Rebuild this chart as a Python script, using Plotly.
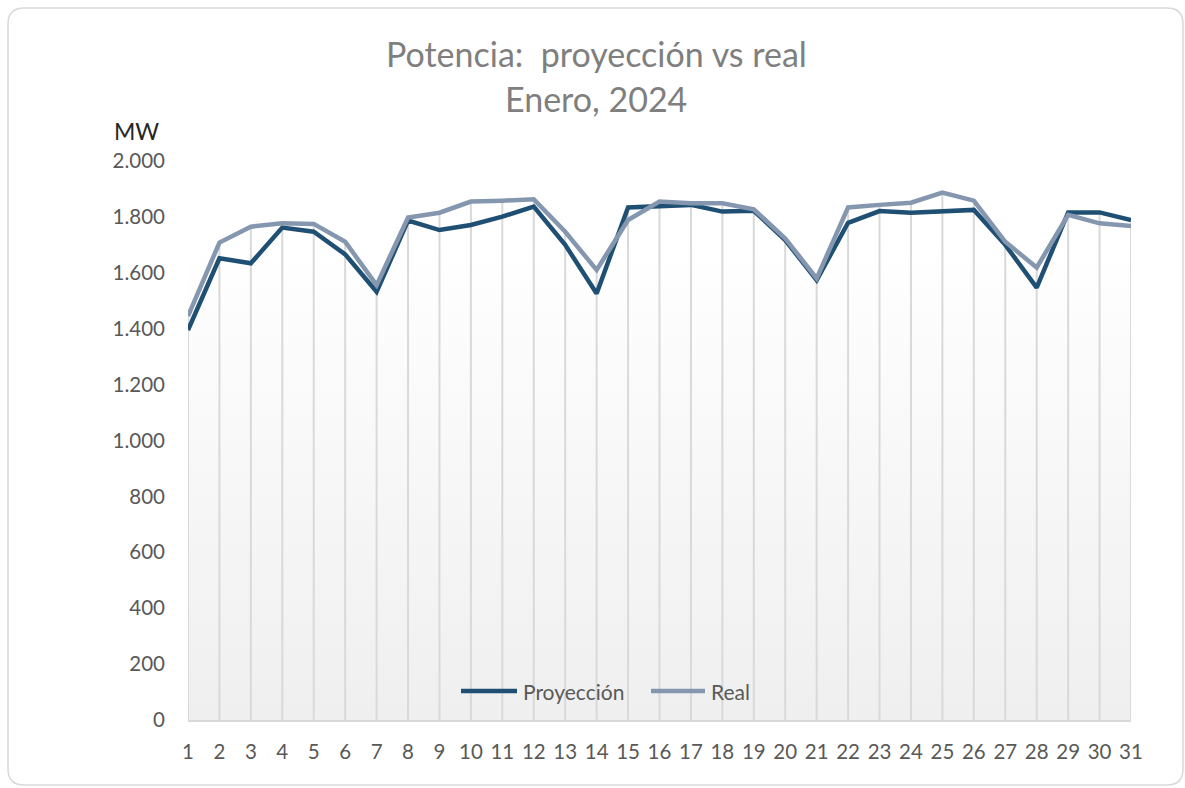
import plotly.graph_objects as go

days = list(range(1, 32))
proyeccion = [1395, 1652, 1634, 1762, 1747, 1666, 1532, 1787, 1753, 1771,
              1801, 1837, 1700, 1526, 1834, 1837, 1843, 1819, 1822, 1717,
              1574, 1779, 1821, 1815, 1821, 1825, 1700, 1547, 1816, 1816, 1789]
real = [1445, 1708, 1765, 1777, 1775, 1711, 1556, 1798, 1815, 1855,
        1858, 1863, 1747, 1610, 1789, 1855, 1849, 1849, 1827, 1723,
        1580, 1834, 1843, 1851, 1887, 1858, 1711, 1619, 1807, 1777, 1767]
y_ticks = list(range(0, 2001, 200))
title_line1 = "Potencia:  proyección vs real"
title_line2 = "Enero, 2024"
y_unit = "MW"
series_names = ["Proyección", "Real"]

W, H = 1185, 788
L, R, T, B = 188, 54, 161, 68
PW, PH = W - L - R, H - T - B

def px(x):
    return (x - L) / PW

def py(y):
    return (H - B - y) / PH

FONT = "Lato, 'Open Sans', sans-serif"
GRAY = "#7f7f7f"
TICK = "#595959"
C_PROY = "#1f5073"
C_REAL = "#8597ae"

fig = go.Figure()

# gradient background of plot area
ymin, ymax = y_ticks[0], y_ticks[-1]
fig.add_trace(go.Scatter(
    x=[days[0], days[-1], days[-1], days[0], days[0]],
    y=[ymin, ymin, ymax, ymax, ymin],
    fill="toself", mode="none",
    fillgradient=dict(type="vertical",
                      colorscale=[[0, "#efefef"], [0.85, "#ffffff"], [1, "#ffffff"]]),
    showlegend=False, hoverinfo="skip",
))

# drop lines (from the highest point of each day down to the axis)
drop_x, drop_y = [], []
for d, a, b in zip(days, proyeccion, real):
    drop_x += [d, d, None]
    drop_y += [ymin, max(a, b), None]
fig.add_trace(go.Scatter(x=drop_x, y=drop_y, mode="lines",
                         line=dict(color="#d9d9d9", width=2),
                         showlegend=False, hoverinfo="skip"))

fig.add_trace(go.Scatter(x=days, y=proyeccion, mode="lines", name=series_names[0],
                         line=dict(color=C_PROY, width=4.5), showlegend=False))
fig.add_trace(go.Scatter(x=days, y=real, mode="lines", name=series_names[1],
                         line=dict(color=C_REAL, width=4.5), showlegend=False))

# rounded chart border
x0, x1, y0, y1, r = 8, 1183, 8, 785, 16
path = (f"M {px(x0 + r)},{py(y0)} L {px(x1 - r)},{py(y0)} "
        f"Q {px(x1)},{py(y0)} {px(x1)},{py(y0 + r)} "
        f"L {px(x1)},{py(y1 - r)} Q {px(x1)},{py(y1)} {px(x1 - r)},{py(y1)} "
        f"L {px(x0 + r)},{py(y1)} Q {px(x0)},{py(y1)} {px(x0)},{py(y1 - r)} "
        f"L {px(x0)},{py(y0 + r)} Q {px(x0)},{py(y0)} {px(x0 + r)},{py(y0)} Z")
fig.add_shape(type="path", path=path, xref="paper", yref="paper",
              line=dict(color="#d9d9d9", width=1.5), layer="below")

# manual legend (long line samples like the original)
legend_items = [(series_names[0], C_PROY, 461, 517, 521),
                (series_names[1], C_REAL, 651, 705, 709)]
for name, color, lx0, lx1, tx in legend_items:
    fig.add_shape(type="line", xref="paper", yref="paper",
                  x0=px(lx0), x1=px(lx1), y0=py(691), y1=py(691),
                  line=dict(color=color, width=4.5))
    fig.add_annotation(text=name, x=px(tx), y=py(691), xref="paper", yref="paper",
                       showarrow=False, xanchor="left", yanchor="middle",
                       font=dict(family=FONT, size=21, color=TICK))

fig.add_annotation(text=title_line1, x=px(596), y=py(54), xref="paper", yref="paper",
                   showarrow=False, font=dict(family=FONT, size=34, color=GRAY),
                   xanchor="center", yanchor="middle")
fig.add_annotation(text=title_line2, x=px(596), y=py(99), xref="paper", yref="paper",
                   showarrow=False, font=dict(family=FONT, size=34, color=GRAY),
                   xanchor="center", yanchor="middle")
fig.add_annotation(text=y_unit, x=px(136), y=py(131), xref="paper", yref="paper",
                   showarrow=False, font=dict(family=FONT, size=23, color="#262626"),
                   xanchor="center", yanchor="middle")

fig.update_layout(
    width=W, height=H,
    margin=dict(l=L, r=R, t=T, b=B),
    paper_bgcolor="white", plot_bgcolor="white",
    separators=",.",
    font=dict(family=FONT, color=TICK),
    hovermode=False,
    showlegend=False,
    xaxis=dict(range=[days[0], days[-1]], tickmode="array", tickvals=days,
               ticktext=[str(d) for d in days], showgrid=False,
               zeroline=False, showline=True, linecolor="#d9d9d9",
               linewidth=2, ticks="", tickfont=dict(size=20.5, color=TICK),
               ticklabelstandoff=12),
    yaxis=dict(range=[ymin, ymax], tickmode="array", tickvals=y_ticks, tickformat=",d",
               showgrid=False, zeroline=False, showline=False, ticks="",
               tickfont=dict(size=20.5, color=TICK), ticklabelstandoff=22),
)

fig.write_html("out.html", config={"displayModeBar": False},
               post_script="document.body.style.margin='0';")
